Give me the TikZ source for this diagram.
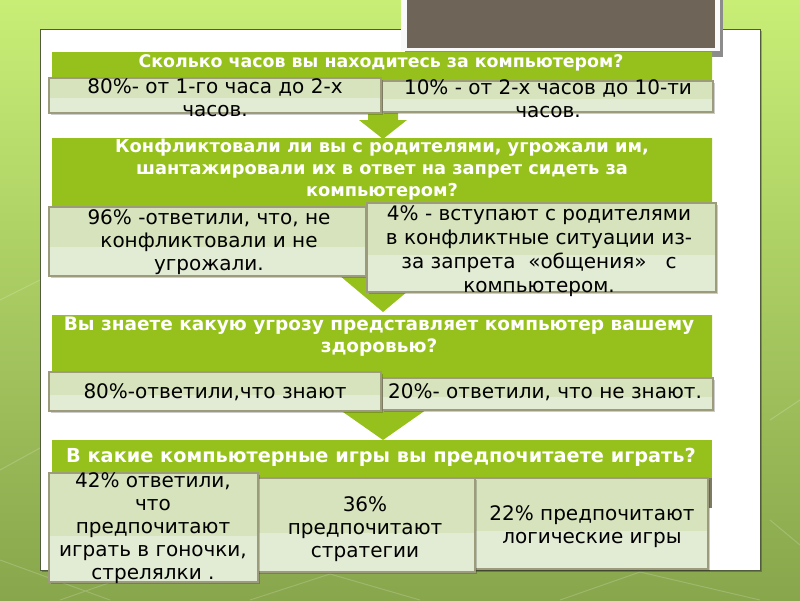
\documentclass[tikz,border=0pt]{standalone}
\usepackage{fontspec}
\setmainfont{DejaVu Sans}
\definecolor{bgtop}{RGB}{200,238,118}
\definecolor{bgbot}{RGB}{136,166,76}
\definecolor{bandgreen}{RGB}{150,193,28}
\definecolor{boxhi}{RGB}{214,227,188}
\definecolor{boxlo}{RGB}{226,235,211}
\definecolor{boxline}{RGB}{156,155,124}
\definecolor{darkbox}{RGB}{110,101,88}
\definecolor{panelline}{RGB}{80,92,60}
\newcommand\qfont[1]{\bfseries\fontsize{#1}{22}\selectfont}
\tikzset{
  band/.style={fill=bandgreen},
  head/.style={text=white,align=center},
  ans/.style={text=black,font=\fontsize{20}{23}\selectfont,align=center},
  deco/.style={white,opacity=0.18,line width=1pt}
}
\begin{document}
\begin{tikzpicture}[x=1pt,y=-1pt]
\useasboundingbox (0,0) rectangle (800,600);
\shade[top color=bgtop,bottom color=bgbot] (0,0) rectangle (800,600);
\draw[deco] (0,560)--(110,600) (60,600)--(140,572) (250,600)--(330,574)--(420,600);
\draw[deco] (560,600)--(640,572)--(760,600) (0,470)--(40,448) (0,300)--(40,280);
\draw[deco] (770,420)--(800,400) (770,520)--(800,545);
\fill[black,opacity=0.25] (42,31) rectangle (762,572);
\fill[white] (40,29) rectangle (760,570);
\draw[panelline,line width=0.8pt] (40,29) rectangle (760,570);
\fill[black!45] (405,0) rectangle (723,57);
\fill[white!95!gray] (401,0) rectangle (720,51);
\fill[darkbox] (407,0) rectangle (715,48);
\fill[band] (52,52)--(712,52)--(712,112)--(398,112)--(398,120)--(407,120)--(383,139)
  --(359,120)--(368,120)--(368,112)--(52,112)--cycle;
\fill[band] (52,138)--(712,138)--(712,270)--(433,270)--(383,312)--(333,270)--(52,270)--cycle;
\fill[band] (52,315)--(712,315)--(712,405)--(433,405)--(383,440)--(333,405)--(52,405)--cycle;
\fill[band] (52,440) rectangle (712,508);
\fill[boxline!80!black] (700,478) rectangle (712,508);
\foreach \xa/\ya/\xb/\yb in {382/81/713/112,49/78/381/113,49/207/366/276,367/203/716/292,
  382/378/713/410,49/372/381/411,475/478/708/569,257/478/475/572,49/473/258/582} {
\fill[black,opacity=0.2] (\xa+2,\ya+2) rectangle (\xb+2,\yb+2);
\fill[boxlo] (\xa,\ya) rectangle (\xb,\yb);
\fill[boxhi] (\xa,\ya) rectangle (\xb,{\ya+0.58*(\yb-\ya)});
\draw[boxline,line width=1.4pt] (\xa,\ya) rectangle (\xb,\yb);
}
\node[head,font=\qfont{17.4}] (q1) at (381,63) {Сколько часов вы находитесь за компьютером?};
\node[head,font=\qfont{17.8}] (q2) at (382,170) {Конфликтовали ли вы с родителями, угрожали им,\\шантажировали их в ответ на запрет сидеть за\\компьютером?};
\node[head,font=\qfont{18.5}] (q3) at (379,337) {Вы знаете какую угрозу представляет компьютер вашему\\здоровью?};
\node[head,font=\qfont{19.3}] (q4) at (381,457) {В какие компьютерные игры вы предпочитаете играть?};
\node[ans] (a1l) at (215,98) {80\%- от 1-го часа до 2-х\\часов.};
\node[ans] (a1r) at (548,99) {10\% - от 2-х часов до 10-ти\\часов.};
\node[ans] (a2l) at (209,242) {96\% -ответили, что, не\\конфликтовали и не\\угрожали.};
\node[ans,font=\fontsize{20}{24}\selectfont] (a2r) at (539,251) {4\% - вступают с родителями\\в конфликтные ситуации из-\\за запрета\ \ «общения»\ \ \ с\\компьютером.};
\node[ans] (a3l) at (215,392) {80\%-ответили,что знают};
\node[ans] (a3r) at (545,392) {20\%- ответили, что не знают.};
\node[ans] (a4l) at (153,528) {42\% ответили,\\что\\предпочитают\\играть в гоночки,\\стрелялки .};
\node[ans] (a4m) at (365,529) {36\%\\предпочитают\\стратегии};
\node[ans] (a4r) at (592,527) {22\% предпочитают\\логические игры};
\end{tikzpicture}
\end{document}
